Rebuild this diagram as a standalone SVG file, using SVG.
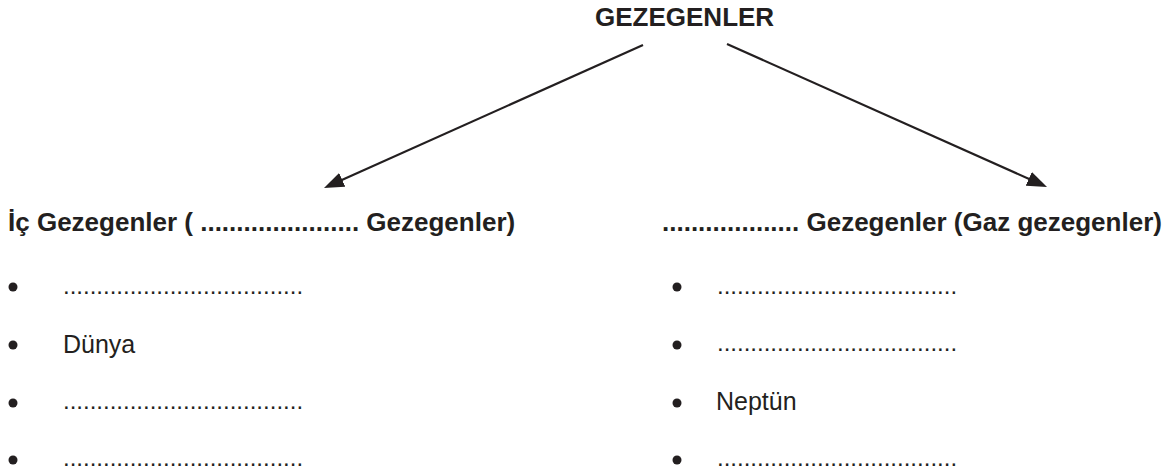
<svg xmlns="http://www.w3.org/2000/svg" width="1176" height="475" viewBox="0 0 1176 475">
<style>
text{font-family:"Liberation Sans",Arial,sans-serif;fill:#231f20}
.b{font-weight:bold}
.h{font-size:26px}
.t{font-size:26px}
.n{font-size:24px}
.w{font-size:25px}
.dot{fill:#231f20}
.ln{stroke:#231f20;stroke-width:2.2;fill:none}
</style>
<defs>
<marker id="ah" viewBox="0 0 20 15" refX="9" refY="7.5" markerWidth="20" markerHeight="15" markerUnits="userSpaceOnUse" orient="auto">
<path d="M0,0 L20,7.5 L0,15 z" fill="#231f20"/>
</marker>
</defs>
<rect width="1176" height="475" fill="#fff"/>
<g id="root"><text class="b t" x="595" y="26">GEZEGENLER</text></g>
<g id="connectors">
<line class="ln" x1="643" y1="45" x2="334" y2="183.5" marker-end="url(#ah)"/>
<line class="ln" x1="727" y1="44" x2="1037" y2="182.5" marker-end="url(#ah)"/>
</g>
<g id="left">
<text class="b h" x="8" y="231">İç Gezegenler ( ...................... Gezegenler)</text>
<circle class="dot" cx="13" cy="287" r="4.5"/>
<circle class="dot" cx="13" cy="345" r="4.5"/>
<circle class="dot" cx="13" cy="403" r="4.5"/>
<circle class="dot" cx="13" cy="460" r="4.5"/>
<text class="n" x="63" y="294">....................................</text>
<text class="w" x="63" y="353">Dünya</text>
<text class="n" x="63" y="409">....................................</text>
<text class="n" x="63" y="466">....................................</text>
</g>
<g id="right">
<text class="b h" x="662" y="231">................... Gezegenler (Gaz gezegenler)</text>
<circle class="dot" cx="677" cy="287" r="4.5"/>
<circle class="dot" cx="677" cy="345" r="4.5"/>
<circle class="dot" cx="677" cy="403" r="4.5"/>
<circle class="dot" cx="677" cy="460" r="4.5"/>
<text class="n" x="717" y="294">....................................</text>
<text class="n" x="717" y="351">....................................</text>
<text class="w" x="716" y="410">Neptün</text>
<text class="n" x="717" y="466">....................................</text>
</g>
</svg>
